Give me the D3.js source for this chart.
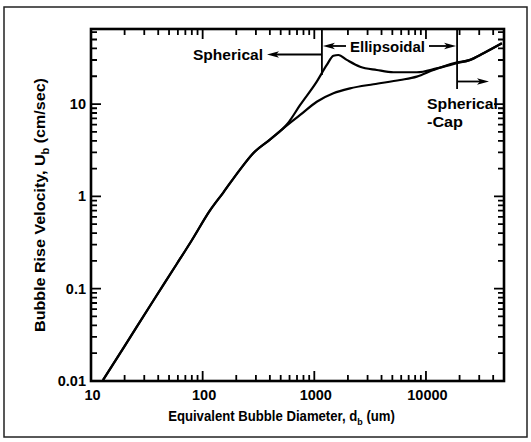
<!DOCTYPE html>
<html>
<head>
<meta charset="utf-8">
<script src="https://cdn.jsdelivr.net/npm/d3@7/dist/d3.min.js"></script>
<style>
  html, body { margin: 0; padding: 0; background: #fff; }
  svg { display: block; }
  text { font-family: "Liberation Sans", Arial, sans-serif; font-weight: bold; fill: #000; }
</style>
</head>
<body>
<svg id="chart" width="531" height="442"></svg>
<script>
// ---------- data ----------
const xTickValues = [10, 100, 1000, 10000];
const xTickLabels = ["10", "100", "1000", "10000"];
const yTickValues = [0.01, 0.1, 1, 10];
const yTickLabels = ["0.01", "0.1", "1", "10"];
const minorMultipliers = [2, 3, 4, 5, 6, 7, 8, 9];

// upper curve (clean / pure water)
const upperDiam = [12.8, 20, 36, 58.6, 80, 116, 153, 216, 285, 403, 580, 747, 1052, 1294, 1483, 1644, 1954, 2571, 3630, 5118, 8282, 12520, 18920, 24900, 32740, 47860];
const upperVel  = [0.0102, 0.0239, 0.0735, 0.185, 0.335, 0.70, 1.10, 1.95, 2.95, 4.15, 6.2, 9.77, 17.5, 26.5, 33.4, 34.0, 30.1, 25.4, 23.4, 22.1, 22.1, 24.4, 27.7, 30.1, 35.5, 45.5];

// lower curve (contaminated)
const lowerDiam = [12.8, 20, 36, 58.6, 80, 116, 153, 216, 285, 403, 580, 747, 1052, 1483, 2094, 3388, 5870, 8282, 11670, 17620, 24900, 32740, 47860];
const lowerVel  = [0.0102, 0.0239, 0.0735, 0.185, 0.335, 0.70, 1.10, 1.95, 2.95, 4.15, 6.0, 7.62, 10.6, 13.1, 14.8, 16.4, 18.2, 19.8, 23.4, 27.7, 30.1, 35.5, 45.5];

// regime boundaries (diameter, um)
const regimeBounds = [1170, 19000];
const regimeLabels = ["Spherical", "Ellipsoidal", "Spherical", "-Cap"];

const xTitle = ["Equivalent Bubble Diameter, d", "b", " (um)"];
const yTitle = ["Bubble Rise Velocity, U", "b", " (cm/sec)"];

// ---------- layout ----------
const svg = d3.select("#chart");
const pLeft = 91, pRight = 504, pTop = 29, pBottom = 381;

const x = d3.scaleLog().domain([10, 50000]).range([pLeft, pRight]);
const y = d3.scaleLog().domain([0.01, 65]).range([pBottom, pTop]);

// outer frame
svg.append("rect").attr("x", 4).attr("y", 7).attr("width", 523).attr("height", 430)
  .attr("fill", "none").attr("stroke", "#222").attr("stroke-width", 1.5);

// plot frame
svg.append("rect").attr("x", pLeft).attr("y", pTop).attr("width", pRight - pLeft).attr("height", pBottom - pTop)
  .attr("fill", "none").attr("stroke", "#000").attr("stroke-width", 2.6);

// ---------- ticks (inward, on all four sides) ----------
const xMinor = xTickValues.flatMap(dec => minorMultipliers.map(k => k * dec)).filter(v => v <= x.domain()[1]);
const yMinor = yTickValues.flatMap(dec => minorMultipliers.map(k => k * dec)).filter(v => v <= y.domain()[1]);
const xAll = xTickValues.map(v => ({ v, major: true })).concat(xMinor.map(v => ({ v, major: false })));
const yAll = yTickValues.map(v => ({ v, major: true })).concat(yMinor.map(v => ({ v, major: false })));

let tickPath = "";
xAll.forEach(d => {
  const len = d.major ? 10 : 6;
  const px = x(d.v).toFixed(2);
  tickPath += `M${px},${pBottom}V${pBottom - len}M${px},${pTop}V${pTop + len}`;
});
yAll.forEach(d => {
  const len = d.major ? 10 : 6;
  const py = y(d.v).toFixed(2);
  tickPath += `M${pLeft},${py}H${pLeft + len}M${pRight},${py}H${pRight - len}`;
});
svg.append("path").attr("d", tickPath).attr("fill", "none")
  .attr("stroke", "#000").attr("stroke-width", 1.8);

// tick labels
svg.append("g").selectAll("text").data(xTickValues).join("text")
  .attr("x", d => x(d) + 1.5).attr("y", 400).attr("text-anchor", "middle")
  .attr("font-size", 14.5).text((d, i) => xTickLabels[i]);
svg.append("g").selectAll("text").data(yTickValues).join("text")
  .attr("x", 86).attr("y", d => y(d) + 5).attr("text-anchor", "end")
  .attr("font-size", 14.5).text((d, i) => yTickLabels[i]);

// ---------- curves ----------
svg.append("clipPath").attr("id", "clip").append("rect")
  .attr("x", pLeft).attr("y", pTop).attr("width", pRight - pLeft).attr("height", pBottom - pTop);

const line = d3.line().x(d => x(d[0])).y(d => y(d[1])).curve(d3.curveMonotoneX);
const plotG = svg.append("g").attr("clip-path", "url(#clip)");
plotG.append("path").datum(d3.zip(lowerDiam, lowerVel)).attr("d", line)
  .attr("fill", "none").attr("stroke", "#000").attr("stroke-width", 2.2);
plotG.append("path").datum(d3.zip(upperDiam, upperVel)).attr("d", line)
  .attr("fill", "none").attr("stroke", "#000").attr("stroke-width", 2.2);

// ---------- regime boundaries and arrows ----------
const b1 = x(regimeBounds[0]), b2 = x(regimeBounds[1]);
svg.append("line").attr("x1", b1).attr("x2", b1).attr("y1", pTop).attr("y2", 75)
  .attr("stroke", "#000").attr("stroke-width", 1.8);
svg.append("line").attr("x1", b2).attr("x2", b2).attr("y1", pTop).attr("y2", 89)
  .attr("stroke", "#000").attr("stroke-width", 1.8);

function arrow(x1, x2, yy) {
  const dir = Math.sign(x2 - x1);
  const hl = 12, hw = 3.2;
  svg.append("line").attr("x1", x1).attr("x2", x2 - dir * hl * 0.6).attr("y1", yy).attr("y2", yy)
    .attr("stroke", "#000").attr("stroke-width", 1.8);
  svg.append("path")
    .attr("d", `M${x2},${yy} L${x2 - dir * hl},${yy - hw} L${x2 - dir * hl * 0.75},${yy} L${x2 - dir * hl},${yy + hw} Z`)
    .attr("fill", "#000");
}

// Spherical <-
arrow(b1, 267, 54.5);
svg.append("text").attr("x", 263).attr("y", 60).attr("text-anchor", "end")
  .attr("font-size", 14).attr("textLength", 70).attr("lengthAdjust", "spacingAndGlyphs")
  .text(regimeLabels[0]);

// <- Ellipsoidal ->
arrow(346, b1 + 1, 46);
arrow(429, b2 - 1, 46);
svg.append("text").attr("x", 350).attr("y", 51.5)
  .attr("font-size", 14).attr("textLength", 75).attr("lengthAdjust", "spacingAndGlyphs")
  .text(regimeLabels[1]);

// Spherical-Cap ->
arrow(b2, 489, 81.5);
svg.append("text").attr("x", 427).attr("y", 108.5)
  .attr("font-size", 14).attr("textLength", 71).attr("lengthAdjust", "spacingAndGlyphs")
  .text(regimeLabels[2]);
svg.append("text").attr("x", 427).attr("y", 127)
  .attr("font-size", 14).attr("textLength", 36).attr("lengthAdjust", "spacingAndGlyphs")
  .text(regimeLabels[3]);

// ---------- titles (condensed horizontally to match the reference width) ----------
function title(parts, size, cx, cy, rot, width) {
  const t = svg.append("text").attr("text-anchor", "middle").attr("font-size", size);
  t.append("tspan").text(parts[0]);
  t.append("tspan").attr("font-size", size * 0.68).attr("dy", 3.5).text(parts[1]);
  t.append("tspan").attr("dy", -3.5).text(parts[2]);
  const len = t.node().getComputedTextLength() || width;
  const k = width / len;
  t.attr("transform", `translate(${cx},${cy}) rotate(${rot}) scale(${k},1)`);
}
title(xTitle, 14.5, 281.5, 421, 0, 227);
title(yTitle, 15, 45, 205, -90, 254);
</script>
</body>
</html>
